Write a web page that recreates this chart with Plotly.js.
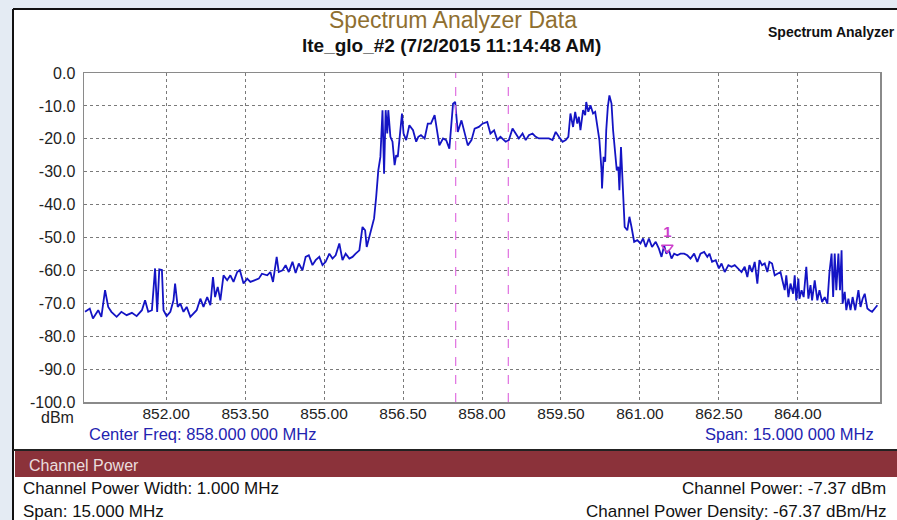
<!DOCTYPE html>
<html><head><meta charset="utf-8">
<script src="https://cdn.plot.ly/plotly-3.0.1.min.js"></script>
<style>html,body{margin:0;padding:0;background:#e4ebf3;}#chart{width:897px;height:520px;}</style>
</head><body><div id="chart"></div>
<script>
// ---- data ----
const freqLower = [850.46,850.55,850.61,850.71,850.77,850.84,850.90,850.96,851.06,851.15,
851.25,851.35,851.44,851.54,851.60,851.66,851.73,851.79,851.83,851.87,
851.92,851.95,852.01,852.08,852.14,852.17,852.22,852.27,852.33,852.39,
852.46,852.52,852.58,852.65,852.71,852.78,852.84,852.89,852.93,852.98,
853.03,853.09,853.16,853.22,853.28,853.35,853.40,853.47,853.54,853.60,
853.67,853.76,853.82,853.92,853.98,854.03,854.10,854.14,854.21,854.27,
854.33,854.40,854.46,854.52,854.59,854.65,854.71,854.78,854.84,854.91,
854.97,855.03,855.10,855.16,855.22,855.29,855.35,855.41,855.48,855.54,
855.60,855.67,855.73,855.78,855.81,855.86,855.90,855.95,855.99,856.03,
856.07,856.11,856.14,856.17,856.20,856.22,856.26,856.30,856.34,856.37,
856.40,856.43,856.48,856.51,856.56,856.62,856.69,856.75,856.79,856.84,
856.91,856.97,857.03,857.10,857.15,857.19,857.26,857.32,857.38,857.45,
857.49,857.54,857.61,857.67,857.73,857.80,857.86];
const levelLower = [-72.6,-71.6,-74.6,-72.1,-74.1,-66.0,-71.1,-72.6,-74.1,-72.6,
-73.6,-72.9,-73.9,-72.1,-69.1,-72.6,-72.1,-59.4,-72.6,-59.7,
-59.9,-72.1,-73.9,-72.6,-69.1,-64.0,-71.1,-70.1,-72.6,-71.1,
-74.1,-73.1,-72.1,-68.6,-71.1,-68.1,-70.6,-62.0,-68.1,-65.0,
-69.1,-61.5,-63.0,-61.5,-63.5,-60.5,-59.9,-64.0,-62.5,-63.5,
-63.0,-62.5,-61.0,-61.5,-60.5,-63.5,-55.9,-60.5,-60.0,-58.4,
-60.5,-57.4,-60.8,-57.9,-60.0,-55.9,-55.4,-58.4,-56.9,-55.9,
-58.4,-57.4,-54.9,-56.4,-55.4,-51.8,-56.9,-54.9,-56.4,-55.9,
-54.9,-53.9,-46.8,-47.8,-52.9,-49.8,-47.8,-44.2,-37.7,-29.6,
-25.5,-11.3,-30.6,-11.3,-18.4,-11.3,-19.4,-20.9,-28.0,-25.0,
-25.5,-20.9,-12.3,-18.4,-20.4,-15.9,-17.4,-20.9,-19.4,-18.9,
-19.9,-15.4,-15.4,-12.8,-18.4,-22.0,-19.9,-20.4,-23.0,-9.3,
-8.8,-17.9,-14.4,-18.4,-22.0,-20.4,-16.9];
const freqUpper = [857.94,858.01,858.10,858.16,858.23,858.29,858.35,858.45,858.51,858.58,
858.64,858.70,858.77,858.83,858.89,858.96,859.02,859.08,859.15,859.21,
859.27,859.34,859.40,859.46,859.53,859.59,859.64,859.68,859.73,859.77,
859.81,859.84,859.87,859.92,859.96,859.98,860.02,860.06,860.11,860.15,
860.19,860.23,860.27,860.28,860.31,860.34,860.36,860.39,860.42,860.46,
860.49,860.53,860.56,860.59,860.61,860.64,860.66,860.69,860.71,860.76,
860.80,860.84,860.89,860.95,861.01,861.06,861.11,861.17,861.23,861.30,
861.36,861.41,861.46,861.50,861.55,861.60,861.65,861.71,861.77,861.84,
861.90,861.96,862.03,862.09,862.15,862.22,862.28,862.32,862.37,862.44,
862.50,862.55,862.61,862.68,862.74,862.80,862.87,862.93,862.99,863.04,
863.08,863.13,863.18,863.23,863.27,863.32,863.37,863.42,863.46,863.51,
863.56,863.61,863.67,863.72,863.75,863.78,863.82,863.86,863.91,863.94,
863.97,864.01,864.03,864.07,864.11,864.16,864.20,864.24,864.27,864.32,
864.37,864.41,864.46,864.51,864.56,864.60,864.64,864.67,864.70,864.73,
864.77,864.80,864.83,864.85,864.89,864.92,864.96,865.00,865.04,865.09,
865.15,865.19,865.23,865.27,865.32,865.36,865.41,865.46,865.51];
const levelUpper = [-16.4,-15.4,-14.9,-18.4,-17.4,-20.4,-19.4,-20.9,-20.4,-16.9,
-18.4,-19.9,-18.4,-20.4,-18.9,-18.4,-19.4,-19.9,-19.9,-19.9,
-19.9,-20.4,-17.9,-19.4,-20.9,-20.4,-19.4,-12.3,-16.4,-11.8,
-15.4,-13.3,-17.4,-11.3,-12.8,-8.8,-11.8,-9.8,-12.3,-11.8,
-15.9,-20.4,-29.6,-35.1,-25.5,-27.0,-17.4,-10.3,-6.8,-9.3,
-17.4,-25.5,-29.6,-28.5,-35.6,-22.5,-30.6,-37.7,-46.8,-47.8,
-43.7,-46.8,-51.3,-50.8,-51.8,-50.3,-52.9,-50.3,-52.9,-51.3,
-53.4,-55.9,-52.4,-54.9,-53.9,-56.4,-54.9,-55.4,-54.9,-54.9,
-55.4,-56.4,-54.9,-57.4,-54.9,-54.4,-55.9,-54.9,-57.4,-56.9,
-59.4,-57.9,-60.5,-58.4,-58.9,-58.4,-59.4,-60.5,-58.9,-62.0,
-58.4,-60.5,-57.4,-64.0,-56.9,-58.4,-57.9,-60.5,-57.4,-57.9,
-61.5,-61.0,-60.5,-64.0,-66.0,-61.5,-68.1,-64.0,-67.1,-61.5,
-69.1,-62.5,-68.6,-66.0,-68.1,-58.9,-68.6,-64.5,-69.1,-63.0,
-69.1,-66.0,-69.6,-68.1,-70.1,-60.5,-54.9,-68.1,-54.9,-66.0,
-54.9,-66.0,-53.9,-70.1,-66.5,-72.1,-68.6,-72.1,-68.1,-72.1,
-66.0,-71.1,-68.6,-67.1,-71.6,-72.1,-72.6,-71.6,-70.6];
const xTicks = [852.00,853.50,855.00,856.50,858.00,859.50,861.00,862.50,864.00];
const yTicks = [0,-10,-20,-30,-40,-50,-60,-70,-80,-90,-100];
const channelEdges = [857.5, 858.5];
const markerFreq = [861.52];
const markerLevel = [-53.1];
const markerLabel = ['1'];
const centerFreqText = 'Center Freq: 858.000 000 MHz';
const spanText = 'Span: 15.000 000 MHz';
const chartTitle = 'Spectrum Analyzer Data';
const chartSubtitle = 'lte_glo_#2 (7/2/2015 11:14:48 AM)';
const infoRows = [['Channel Power Width: 1.000 MHz','Channel Power: -7.37 dBm'],
                  ['Span: 15.000 MHz','Channel Power Density: -67.37 dBm/Hz']];

// ---- layout helpers (pixels -> paper) ----
const W=897,H=520,L=84,R=880,T=73,B=402;
const px = x => (x-L)/(R-L);
const py = y => (B-y)/(B-T);
const FONT = 'Liberation Sans, Arial, sans-serif';

const freqMHz = freqLower.concat(freqUpper);
const levelDbm = levelLower.concat(levelUpper);

const traces = [
  {x: freqMHz, y: levelDbm, type:'scatter', mode:'lines',
   line:{color:'#1414c4', width:1.8}, hoverinfo:'skip', showlegend:false},
  {x: markerFreq, y: markerLevel, type:'scatter', mode:'markers+text',
   text: markerLabel, textposition:'top center',
   textfont:{family:FONT, size:15, color:'#cc3fcc', weight:'bold'},
   marker:{symbol:'triangle-down-open', size:10, color:'#cc3fcc', line:{width:1.5, color:'#cc3fcc'}},
   hoverinfo:'skip', showlegend:false}
];

const shapes = [
  {type:'rect', xref:'paper', yref:'paper', x0:px(13), x1:px(W+5), y0:py(9), y1:py(H+5),
   fillcolor:'#ffffff', line:{width:0}, layer:'below'},
  {type:'line', xref:'paper', yref:'paper', x0:px(13), x1:px(W+5), y0:py(9), y1:py(9),
   line:{color:'#111', width:2}},
  {type:'line', xref:'paper', yref:'paper', x0:px(13), x1:px(13), y0:py(9), y1:py(H+5),
   line:{color:'#111', width:2}},
  {type:'line', xref:'paper', yref:'paper', x0:px(13), x1:px(W+5), y0:py(450), y1:py(450),
   line:{color:'#222', width:2}},
  {type:'rect', xref:'paper', yref:'paper', x0:px(15), x1:px(W+5), y0:py(451), y1:py(477),
   fillcolor:'#8b323a', line:{width:0}}
];
channelEdges.forEach(f => shapes.push({type:'line', xref:'x', yref:'paper', x0:f, x1:f, y0:0, y1:1,
   line:{color:'#e070e0', width:1.2, dash:'dash'}}));

const ann = (text, x, y, xanchor, size, color, extra) => Object.assign({
  text, xref:'paper', yref:'paper', x:px(x), y:py(y), xanchor, yanchor:'middle',
  showarrow:false, font:{family:FONT, size, color}}, extra||{});

const annotations = [
  ann(chartTitle, 453, 20, 'center', 23, '#8f6f30'),
  ann('<b>'+chartSubtitle+'</b>', 451, 46, 'center', 19, '#111'),
  ann('<b>Spectrum Analyzer</b>', 766, 32, 'left', 14, '#111'),
  ann('dBm', 76, 417, 'right', 16, '#222'),
  ann(centerFreqText, 87, 434, 'left', 16.5, '#2323b0'),
  ann(spanText, 876, 434, 'right', 16.5, '#2323b0'),
  ann('Channel Power', 27, 465, 'left', 16, '#eadede'),
  ann(infoRows[0][0], 21, 488, 'left', 17, '#111'),
  ann(infoRows[0][1], 888, 488, 'right', 17, '#111'),
  ann(infoRows[1][0], 21, 511, 'left', 17, '#111'),
  ann(infoRows[1][1], 888, 511, 'right', 17, '#111')
];

const layout = {
  width:W, height:H,
  margin:{l:L, r:W-R, t:T, b:H-B, pad:0},
  paper_bgcolor:'#e4ebf3', plot_bgcolor:'#ffffff',
  showlegend:false,
  xaxis:{range:[850.44,865.56], tickmode:'array', tickvals:xTicks,
    ticktext:xTicks.map(v=>v.toFixed(2)), ticks:'', showgrid:true,
    gridcolor:'#7a7a7a', griddash:'dot', gridwidth:1, zeroline:false,
    showline:true, mirror:true, linecolor:'#8a8a8a', linewidth:1.5,
    tickfont:{family:FONT, size:15.5, color:'#222'}, ticklabelstandoff:-3, fixedrange:true},
  yaxis:{range:[-100,0], tickmode:'array', tickvals:yTicks,
    ticktext:yTicks.map(v=>v.toFixed(1)), ticks:'', showgrid:true,
    gridcolor:'#7a7a7a', griddash:'dot', gridwidth:1, zeroline:false,
    showline:true, mirror:true, linecolor:'#8a8a8a', linewidth:1.5,
    tickfont:{family:FONT, size:16, color:'#222'}, ticklabelstandoff:4, fixedrange:true},
  shapes, annotations
};

Plotly.newPlot('chart', traces, layout, {displayModeBar:false, staticPlot:true});
</script></body></html>
